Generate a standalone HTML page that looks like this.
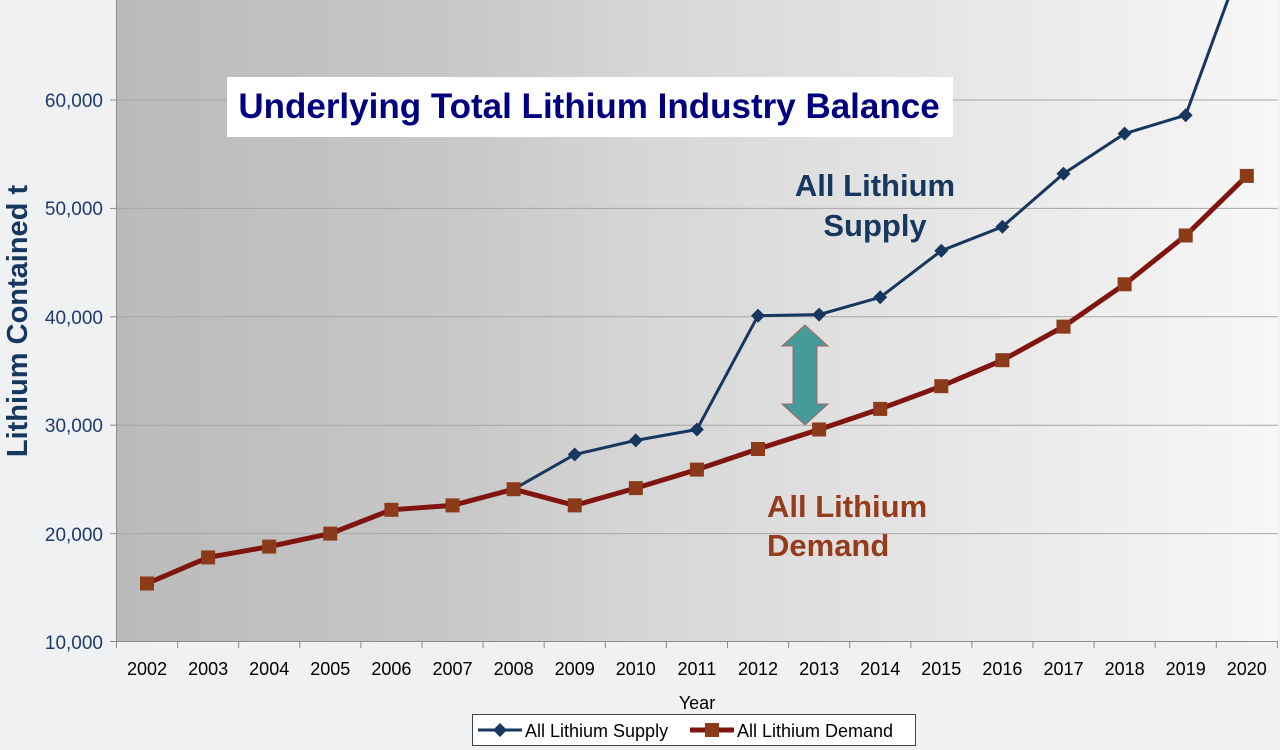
<!DOCTYPE html>
<html><head><meta charset="utf-8"><style>
body{margin:0;background:#eff1f3;}
svg{display:block;font-family:"Liberation Sans",Arial,sans-serif;}
</style></head><body>
<svg width="1280" height="750" viewBox="0 0 1280 750">
<defs>
<linearGradient id="bg" x1="0" x2="1" y1="0" y2="0">
<stop offset="0" stop-color="#bababa"/><stop offset="0.3" stop-color="#c8c8c8"/><stop offset="0.45" stop-color="#d6d6d6"/><stop offset="1" stop-color="#f7f7f7"/>
</linearGradient>
</defs>
<rect x="116" y="0" width="1162" height="642" fill="url(#bg)"/>
<g stroke="#a6a6a6" stroke-width="1">
<line x1="116" x2="1278" y1="533.6" y2="533.6"/>
<line x1="116" x2="1278" y1="425.2" y2="425.2"/>
<line x1="116" x2="1278" y1="316.8" y2="316.8"/>
<line x1="116" x2="1278" y1="208.4" y2="208.4"/>
<line x1="116" x2="1278" y1="100" y2="100"/>
</g>
<g stroke="#8c8c8c" stroke-width="1">
<line x1="116.5" x2="116.5" y1="0" y2="648"/>
<line x1="110" x2="1278" y1="641.5" y2="641.5"/>
<line x1="110" x2="116" y1="533.6" y2="533.6"/><line x1="110" x2="116" y1="425.2" y2="425.2"/><line x1="110" x2="116" y1="316.8" y2="316.8"/><line x1="110" x2="116" y1="208.4" y2="208.4"/><line x1="110" x2="116" y1="100" y2="100"/>
<path d="M177.6 642v6M238.7 642v6M299.8 642v6M360.9 642v6M422 642v6M483.1 642v6M544.2 642v6M605.3 642v6M666.4 642v6M727.5 642v6M788.6 642v6M849.7 642v6M910.8 642v6M971.9 642v6M1033 642v6M1094.1 642v6M1155.2 642v6M1216.3 642v6M1277.4 642v6"/>
</g>
<g fill="#1f3a6e" font-size="19" text-anchor="end">
<text x="103" y="649">10,000</text><text x="103" y="541">20,000</text><text x="103" y="432">30,000</text><text x="103" y="324">40,000</text><text x="103" y="215">50,000</text><text x="103" y="107">60,000</text>
</g>
<g fill="#000" font-size="18" text-anchor="middle">
<text x="147" y="675">2002</text><text x="208.1" y="675">2003</text><text x="269.2" y="675">2004</text><text x="330.3" y="675">2005</text><text x="391.4" y="675">2006</text><text x="452.5" y="675">2007</text><text x="513.6" y="675">2008</text><text x="574.7" y="675">2009</text><text x="635.8" y="675">2010</text><text x="696.9" y="675">2011</text><text x="758" y="675">2012</text><text x="819.1" y="675">2013</text><text x="880.2" y="675">2014</text><text x="941.3" y="675">2015</text><text x="1002.4" y="675">2016</text><text x="1063.5" y="675">2017</text><text x="1124.6" y="675">2018</text><text x="1185.7" y="675">2019</text><text x="1246.8" y="675">2020</text>
<text x="697" y="709">Year</text>
</g>
<text transform="translate(27,321) rotate(-90)" text-anchor="middle" font-size="29" font-weight="bold" fill="#17375e">Lithium Contained t</text>
<rect x="227" y="77" width="726" height="60" fill="#fff"/>
<text x="589" y="118" text-anchor="middle" font-size="35" font-weight="bold" fill="#000080">Underlying Total Lithium Industry Balance</text>
<g font-size="31" font-weight="bold" fill="#17375e" text-anchor="middle">
<text x="875" y="196">All Lithium</text><text x="875" y="236">Supply</text>
</g>
<g font-size="31" font-weight="bold" fill="#943c1c">
<text x="767" y="517">All Lithium</text><text x="767" y="556">Demand</text>
</g>
<path d="M805 325 L828 346 L817 346 L817 404 L828 404 L805 425 L782 404 L793 404 L793 346 L782 346 Z" fill="#459a9a" stroke="#b06060" stroke-width="1"/>
<polyline fill="none" stroke="#17375e" stroke-width="3" points="147,583.5 208.1,557.4 269.2,546.6 330.3,533.6 391.4,509.8 452.5,505.4 513.6,489.2 574.7,454.5 635.8,440.4 696.9,429.5 758,315.7 819.1,314.6 880.2,297.3 941.3,250.7 1002.4,226.8 1063.5,173.7 1124.6,133.6 1185.7,115.2 1246.8,-52"/>
<g fill="#17375e">
<path d="M574.7 447.5l7 7-7 7-7-7z"/><path d="M635.8 433.4l7 7-7 7-7-7z"/><path d="M696.9 422.5l7 7-7 7-7-7z"/><path d="M758 308.7l7 7-7 7-7-7z"/><path d="M819.1 307.6l7 7-7 7-7-7z"/><path d="M880.2 290.3l7 7-7 7-7-7z"/><path d="M941.3 243.7l7 7-7 7-7-7z"/><path d="M1002.4 219.8l7 7-7 7-7-7z"/><path d="M1063.5 166.7l7 7-7 7-7-7z"/><path d="M1124.6 126.6l7 7-7 7-7-7z"/><path d="M1185.7 108.2l7 7-7 7-7-7z"/>
</g>
<polyline fill="none" stroke="#7f1410" stroke-width="5" points="147,583.5 208.1,557.4 269.2,546.6 330.3,533.6 391.4,509.8 452.5,505.4 513.6,489.2 574.7,505.4 635.8,488.1 696.9,469.6 758,449 819.1,429.5 880.2,408.9 941.3,386.2 1002.4,360.2 1063.5,326.6 1124.6,284.3 1185.7,235.5 1246.8,175.9"/>
<g fill="#8b3a1a">
<rect x="140" y="576.5" width="14" height="14"/><rect x="201.1" y="550.4" width="14" height="14"/><rect x="262.2" y="539.6" width="14" height="14"/><rect x="323.3" y="526.6" width="14" height="14"/><rect x="384.4" y="502.8" width="14" height="14"/><rect x="445.5" y="498.4" width="14" height="14"/><rect x="506.6" y="482.2" width="14" height="14"/><rect x="567.7" y="498.4" width="14" height="14"/><rect x="628.8" y="481.1" width="14" height="14"/><rect x="689.9" y="462.6" width="14" height="14"/><rect x="751" y="442" width="14" height="14"/><rect x="812.1" y="422.5" width="14" height="14"/><rect x="873.2" y="401.9" width="14" height="14"/><rect x="934.3" y="379.2" width="14" height="14"/><rect x="995.4" y="353.2" width="14" height="14"/><rect x="1056.5" y="319.6" width="14" height="14"/><rect x="1117.6" y="277.3" width="14" height="14"/><rect x="1178.7" y="228.5" width="14" height="14"/><rect x="1239.8" y="168.9" width="14" height="14"/>
</g>
<rect x="472.5" y="714.5" width="443" height="31" fill="#fff" stroke="#444" stroke-width="1"/>
<line x1="478" x2="522" y1="730" y2="730" stroke="#17375e" stroke-width="3"/>
<path d="M500 723l7 7-7 7-7-7z" fill="#17375e"/>
<text x="525" y="737" font-size="18" fill="#000">All Lithium Supply</text>
<line x1="690" x2="734" y1="730" y2="730" stroke="#7f1410" stroke-width="5"/>
<rect x="705" y="723" width="14" height="14" fill="#8b3a1a"/>
<text x="737" y="737" font-size="18" fill="#000">All Lithium Demand</text>
</svg>
</body></html>
